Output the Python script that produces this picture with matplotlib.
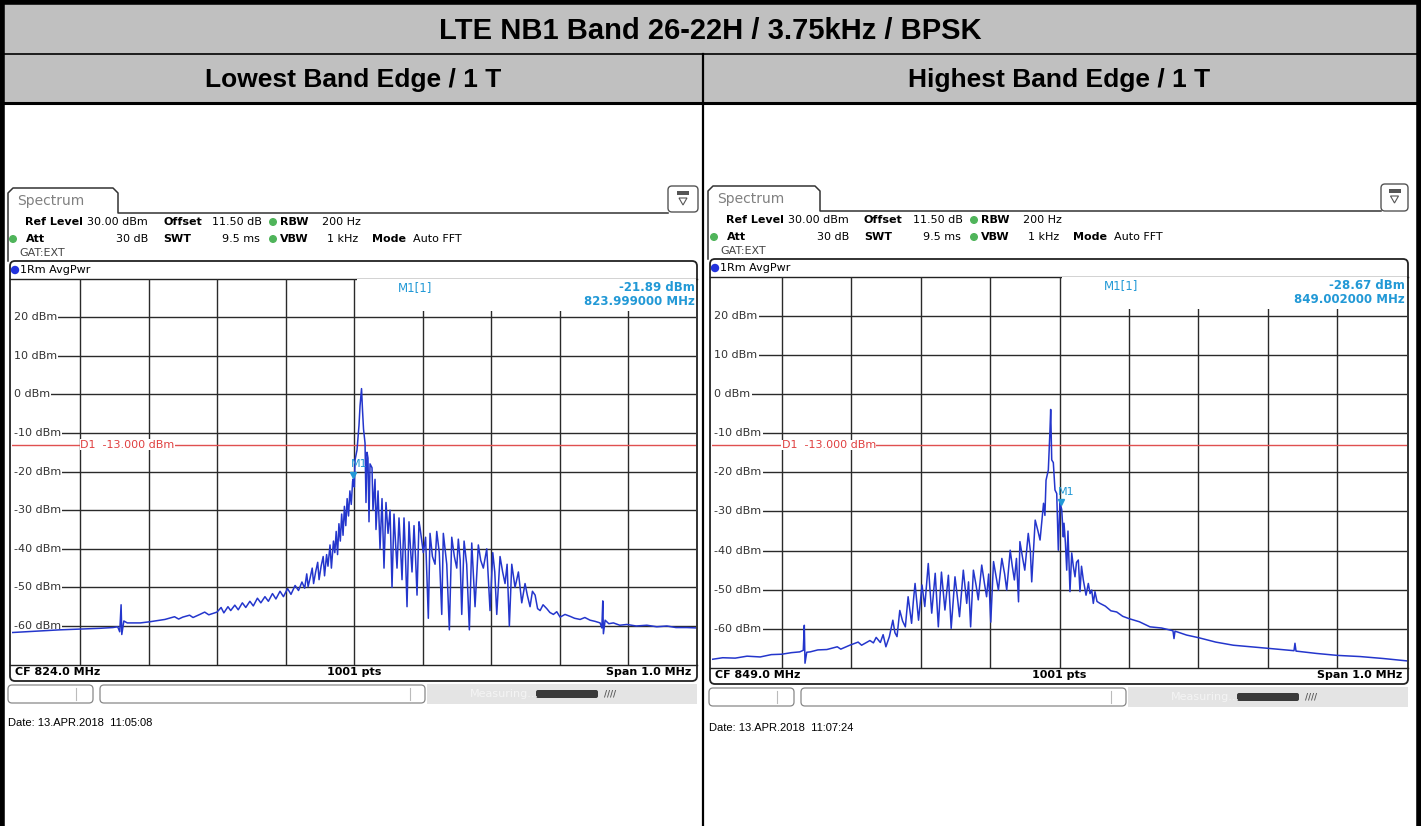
import matplotlib
matplotlib.use('Agg')
import matplotlib.pyplot as plt
import matplotlib.transforms as mtrans
from matplotlib.patches import Rectangle, FancyBboxPatch, Circle, Polygon

W, H = 1421, 826

title = 'LTE NB1 Band 26-22H / 3.75kHz / BPSK'
col_titles = ['Lowest Band Edge / 1 T', 'Highest Band Edge / 1 T']

center_mhz = [824.0, 849.0]
span_mhz = 1.0
ref_level = 30.0
limit_dbm = -13.0
marker_mhz = [823.999, 849.002]
marker_dbm = [-21.89, -28.67]
dates = ['Date: 13.APR.2018  11:05:08', 'Date: 13.APR.2018  11:07:24']
level_ticks = [20, 10, 0, -10, -20, -30, -40, -50, -60]

# traces: (offset from CF in kHz, level in dBm)
low_trace = [
    (-500, -61.7), (-459, -61.3), (-430, -61.0), (-400, -60.8), (-371, -60.6), (-352, -60.4),
    (-345, -60.2), (-342, -61.5), (-340, -54.5), (-339, -62.2), (-336, -58.7), (-331, -59.2),
    (-312, -59.2), (-298, -58.9), (-276, -58.3), (-262, -57.6), (-256, -58.2), (-250, -57.7),
    (-240, -57.2), (-235, -57.8), (-225, -57.0), (-218, -56.4), (-212, -57.1), (-200, -56.4),
    (-194, -55.2), (-190, -56.6), (-184, -55.0), (-180, -56.0), (-174, -54.6), (-169, -55.8),
    (-163, -54.0), (-158, -55.2), (-152, -53.6), (-147, -54.8), (-141, -52.8), (-136, -54.0),
    (-130, -52.4), (-125, -53.6), (-119, -51.6), (-114, -53.0), (-108, -51.0), (-103, -52.4),
    (-97, -50.3), (-92, -51.8), (-86, -49.5), (-81, -50.8), (-76, -48.6), (-72, -50.2),
    (-69, -46.5), (-67, -49.8), (-64, -47.5), (-61, -45.0), (-59, -49.0), (-56, -46.0),
    (-53, -43.5), (-51, -48.0), (-48, -44.5), (-45, -42.0), (-43, -47.0), (-40, -41.5),
    (-38, -44.5), (-35, -39.0), (-33, -45.0), (-30, -38.0), (-28, -41.0), (-26, -35.5),
    (-24, -41.5), (-22, -33.5), (-20, -38.0), (-18, -31.0), (-16, -36.5), (-14, -29.0),
    (-12, -34.0), (-10, -27.0), (-8, -31.5), (-6, -25.0), (-4, -28.5), (-2, -22.5),
    (-1, -21.9), (0.5, -24.0), (1.5, -17.0), (4.4, -14.4), (7.3, -8.0), (8.8, -3.0),
    (11, 1.5), (12.4, -4.0), (13.9, -9.0), (16.1, -12.6), (17.5, -28.0), (19, -15.0),
    (20.4, -16.5), (21.9, -33.0), (23.4, -18.0), (26.3, -19.0), (27.7, -30.0), (30.7, -22.0),
    (32.1, -35.0), (35.1, -25.0), (38, -40.0), (40.9, -27.0), (43.8, -45.0), (46.7, -28.0),
    (49.7, -36.0), (52.6, -30.0), (55.5, -50.0), (58.4, -31.0), (60.5, -38.0), (62.8, -45.0),
    (65.7, -32.0), (68, -40.0), (70.1, -48.0), (73, -32.0), (75, -41.0), (77.4, -55.0),
    (80.3, -33.0), (82.5, -40.0), (84.7, -46.0), (87.6, -34.0), (89.8, -42.0), (92, -52.0),
    (94.9, -33.0), (96.4, -34.6), (101.2, -41.0), (104.5, -37.0), (108.5, -58.0), (111, -36.0),
    (114.5, -42.0), (118.3, -44.0), (120.8, -35.5), (124.5, -41.0), (128.1, -57.0), (130.4, -36.0),
    (135.4, -44.0), (139.2, -61.0), (142.7, -37.0), (146.5, -42.0), (150, -45.0), (152.3, -37.5),
    (155, -43.0), (157.3, -57.0), (160.7, -38.0), (164.5, -44.0), (168.4, -61.0), (171.9, -38.5),
    (176.7, -55.0), (181.5, -39.0), (185, -43.0), (188.8, -45.0), (193.8, -40.0), (198.6, -56.0),
    (202.6, -41.0), (205.5, -46.0), (208.4, -57.0), (213.2, -42.0), (217, -46.0), (220.5, -49.0),
    (223.5, -44.0), (226.8, -60.0), (230.3, -44.0), (235.1, -50.0), (240, -46.0), (244.9, -54.0),
    (249.7, -49.0), (253, -52.0), (257, -55.0), (260.5, -51.0), (264.4, -52.0), (268, -55.5),
    (271.7, -56.0), (276, -54.5), (281.4, -55.5), (286, -56.5), (291.1, -57.0), (296, -56.3),
    (300.9, -57.7), (308, -57.0), (315.5, -57.5), (322, -58.0), (330.1, -58.3), (337, -57.8),
    (344.7, -58.5), (352, -58.8), (359.3, -59.2), (361.8, -60.5), (363.2, -53.5), (364.1, -62.0),
    (366.6, -58.5), (372, -59.4), (378.7, -59.2), (388, -59.8), (398.3, -59.6), (412, -60.0),
    (427.5, -59.8), (442, -60.2), (456.7, -60.0), (470, -60.4), (485.9, -60.4), (500, -60.5),
]
high_trace = [
    (-500, -67.8), (-485, -67.4), (-467, -67.5), (-450, -67.0), (-431, -67.2), (-415, -66.6),
    (-400, -66.5), (-386, -66.1), (-374, -65.9), (-369, -65.5), (-367.5, -59.1), (-366.5, -68.8),
    (-364, -66.0), (-359, -65.9), (-348, -65.4), (-335, -65.3), (-320, -64.6), (-315, -65.2),
    (-302, -64.2), (-290, -63.4), (-285, -64.2), (-273, -63.0), (-268, -63.6), (-264, -62.2),
    (-258, -63.5), (-254, -61.5), (-250, -64.6), (-245, -62.0), (-240, -57.8), (-237, -61.0),
    (-234, -62.0), (-230, -55.3), (-226, -58.0), (-222, -59.5), (-218, -51.8), (-213, -58.6),
    (-210.5, -53.0), (-208, -48.4), (-203, -57.8), (-198, -48.8), (-194, -54.3), (-189, -43.3),
    (-186.5, -50.0), (-184, -56.0), (-179, -45.8), (-174.5, -59.5), (-170, -45.5), (-167.5, -50.5),
    (-165, -55.2), (-160, -46.3), (-156, -59.9), (-150.5, -46.7), (-147, -52.0), (-144, -56.9),
    (-138.5, -45.0), (-133.6, -53.5), (-131, -48.0), (-128, -59.5), (-124, -45.0), (-120, -49.0),
    (-117, -52.6), (-112, -43.7), (-108, -48.5), (-105, -51.8), (-102, -46.0), (-99, -58.3),
    (-95, -42.8), (-91, -47.0), (-88, -50.1), (-83, -42.0), (-79, -46.0), (-76, -50.1),
    (-71, -39.9), (-68, -44.0), (-65, -47.5), (-62, -42.0), (-59, -53.1), (-57, -37.7),
    (-53, -42.0), (-50, -45.0), (-45, -35.6), (-42, -40.0), (-40, -48.0), (-35, -32.2),
    (-31, -35.0), (-28, -37.3), (-23, -27.9), (-21, -31.0), (-19.4, -22.0), (-16.1, -19.4),
    (-13.7, -9.2), (-12.7, -3.9), (-11.2, -16.8), (-8.9, -17.5), (-6.5, -24.5), (-4, -25.4),
    (-1.7, -39.9), (0.7, -27.0), (2, -28.67), (3.2, -29.5), (5.5, -36.5), (6.5, -33.0),
    (8.5, -38.0), (10.4, -45.0), (12.2, -35.0), (15.1, -50.5), (17.6, -40.6), (19.9, -44.0),
    (22.3, -46.7), (24.5, -43.0), (27.1, -42.4), (29.5, -50.5), (31.7, -44.0), (34.3, -47.5),
    (38.2, -51.4), (41.5, -48.4), (44, -51.0), (46.4, -50.1), (48.7, -53.5), (51.1, -50.5),
    (54, -53.0), (58.3, -53.5), (66, -54.2), (74, -55.4), (82.4, -55.7), (91, -56.8),
    (100.1, -57.4), (115, -58.2), (130.3, -59.5), (147, -59.8), (163.4, -60.5), (164.9, -62.5),
    (166.3, -60.6), (183, -61.6), (200.9, -62.3), (225, -63.4), (250.3, -64.2), (275, -64.6),
    (300.7, -65.0), (320, -65.3), (337.7, -65.6), (339.1, -63.7), (340.6, -65.7), (370, -66.3),
    (400, -66.8), (433, -67.1), (466.3, -67.6), (500, -68.2),
]
traces = [low_trace, high_trace]

# pixel geometry of the two analyzer screenshots
panels = [
    dict(dx=0, tab=(8, 118, 188, 213), icon=(668, 698, 186, 212), info=(222, 239, 253),
         frame=(10, 697, 261, 681), label_y=270, plot=(11.5, 696.5, 278.6, 664.6),
         foot_y=672, status=(685, 703), date_y=723, box_x=357),
    dict(dx=701, tab=(708, 820, 186, 211), icon=(1381, 1408, 184, 211), info=(220, 237, 251),
         frame=(710, 1408, 259, 684), label_y=268, plot=(712.3, 1406.7, 276.9, 667.9),
         foot_y=675, status=(688, 706), date_y=728, box_x=1062),
]

trace_col = '#2436cc'
mark_col = '#2299d6'
green = '#4fb45a'

fig = plt.figure(figsize=(W / 100, H / 100), dpi=100)
bg = fig.add_axes([0, 0, 1, 1])
bg.set_xlim(0, W)
bg.set_ylim(H, 0)
bg.axis('off')

# table header
bg.add_patch(Rectangle((0, 0), W, 103, facecolor='#c0c0c0', edgecolor='none'))
bg.plot([0, W], [54, 54], color='black', lw=1.2)
bg.plot([0, W], [103, 103], color='black', lw=2.2)
bg.plot([703, 703], [54, H], color='black', lw=1.6)
bg.plot([2, 2], [0, H], color='black', lw=4)
bg.plot([1418.5, 1418.5], [0, H], color='black', lw=4)
bg.plot([0, W], [2, 2], color='black', lw=4)
bg.text(710, 31, title, ha='center', va='center', fontsize=21, fontweight='bold',
        family='Liberation Sans')
for cx, t in zip([353, 1059], col_titles):
    bg.text(cx, 80, t, ha='center', va='center', fontsize=19, fontweight='bold',
            family='Liberation Sans')

fs = 8
for i, p in enumerate(panels):
    dx = p['dx']
    x0, x1, t0, t1 = p['tab']
    # tab outline + line to the icon
    ix0, ix1, iy0, iy1 = p['icon']
    bg.plot([x0, x0, x0 + 5, x1 - 5, x1, x1, ix0], [t1 + 48, t0 + 5, t0, t0, t0 + 5, t1, t1],
            color='#333333', lw=1.1)
    bg.text(x0 + 9, (t0 + t1) / 2 + 1, 'Spectrum', fontsize=10, color='#808080', va='center')
    bg.add_patch(FancyBboxPatch((ix0, iy0), ix1 - ix0, iy1 - iy0,
                                boxstyle='round,pad=0,rounding_size=4',
                                facecolor='white', edgecolor='#555555', lw=1))
    icx = (ix0 + ix1) / 2
    bg.add_patch(Rectangle((icx - 6, iy0 + 5), 12, 4, facecolor='#555555', edgecolor='none'))
    bg.add_patch(Polygon([(icx - 4, iy0 + 12), (icx + 4, iy0 + 12), (icx, iy0 + 19)],
                         closed=True, facecolor='none', edgecolor='#555555', lw=0.8))

    r1, r2, r3 = p['info']
    bg.text(dx + 25, r1, 'Ref Level', fontsize=fs, fontweight='bold', va='center')
    bg.text(dx + 87, r1, '30.00 dBm', fontsize=fs, va='center')
    bg.text(dx + 163, r1, 'Offset', fontsize=fs, fontweight='bold', va='center')
    bg.text(dx + 212, r1, '11.50 dB', fontsize=fs, va='center')
    bg.add_patch(Circle((dx + 273, r1), 3.3, color=green))
    bg.text(dx + 280, r1, 'RBW', fontsize=fs, fontweight='bold', va='center')
    bg.text(dx + 322, r1, '200 Hz', fontsize=fs, va='center')
    bg.add_patch(Circle((dx + 13, r2), 3.3, color=green))
    bg.text(dx + 26, r2, 'Att', fontsize=fs, fontweight='bold', va='center')
    bg.text(dx + 148, r2, '30 dB', fontsize=fs, va='center', ha='right')
    bg.text(dx + 163, r2, 'SWT', fontsize=fs, fontweight='bold', va='center')
    bg.text(dx + 260, r2, '9.5 ms', fontsize=fs, va='center', ha='right')
    bg.add_patch(Circle((dx + 273, r2), 3.3, color=green))
    bg.text(dx + 280, r2, 'VBW', fontsize=fs, fontweight='bold', va='center')
    bg.text(dx + 358, r2, '1 kHz', fontsize=fs, va='center', ha='right')
    bg.text(dx + 372, r2, 'Mode', fontsize=fs, fontweight='bold', va='center')
    bg.text(dx + 413, r2, 'Auto FFT', fontsize=fs, va='center')
    bg.text(dx + 19, r3, 'GAT:EXT', fontsize=fs, va='center', color='#444444')

    fx0, fx1, fy0, fy1 = p['frame']
    bg.add_patch(FancyBboxPatch((fx0, fy0), fx1 - fx0, fy1 - fy0,
                                boxstyle='round,pad=0,rounding_size=5',
                                facecolor='white', edgecolor='#222222', lw=1.3))
    bg.add_patch(Circle((fx0 + 5, p['label_y']), 3.5, color='#2233dd'))
    bg.text(fx0 + 10, p['label_y'], '1Rm AvgPwr', fontsize=fs, va='center')

    px0, px1, py0, py1 = p['plot']
    bg.plot([fx0, fx1], [py0, py0], color='#222222', lw=1)
    bg.plot([fx0, fx1], [py1, py1], color='#222222', lw=1)
    fy = p['foot_y']
    bg.text(fx0 + 5, fy, 'CF %.1f MHz' % center_mhz[i], fontsize=fs, fontweight='bold',
            va='center')
    bg.text((px0 + px1) / 2, fy, '1001 pts', fontsize=fs, fontweight='bold',
            va='center', ha='center')
    bg.text(fx1 - 6, fy, 'Span %.1f MHz' % span_mhz, fontsize=fs, fontweight='bold',
            va='center', ha='right')

    # status bar
    s0, s1 = p['status']
    bg.add_patch(FancyBboxPatch((dx + 8, s0), 85, s1 - s0, boxstyle='round,pad=0,rounding_size=4',
                                facecolor='white', edgecolor='#888888', lw=0.9))
    bg.plot([dx + 76, dx + 76], [s0 + 3, s1 - 3], color='#bbbbbb', lw=0.8)
    bg.add_patch(FancyBboxPatch((dx + 100, s0), 325, s1 - s0, boxstyle='round,pad=0,rounding_size=4',
                                facecolor='white', edgecolor='#888888', lw=0.9))
    bg.plot([dx + 410, dx + 410], [s0 + 3, s1 - 3], color='#bbbbbb', lw=0.8)
    bg.add_patch(Rectangle((dx + 427, s0 - 1), fx1 - dx - 427, s1 - s0 + 2,
                           facecolor='#e4e4e4', edgecolor='none'))
    bg.text(dx + 470, (s0 + s1) / 2, 'Measuring...', fontsize=fs, color='#f4f4f4', va='center')
    bg.add_patch(FancyBboxPatch((dx + 536, s0 + 5), 62, s1 - s0 - 10,
                                boxstyle='round,pad=0,rounding_size=2',
                                facecolor='#3a3a3a', edgecolor='none'))
    bg.text(dx + 604, (s0 + s1) / 2, '////', fontsize=6, color='#555555', va='center',
            fontweight='bold')
    bg.text(dx + 8, p['date_y'], dates[i], fontsize=8, va='center', family='Liberation Sans')

    # measurement diagram
    ax = fig.add_axes([px0 / W, 1 - py1 / H, (px1 - px0) / W, (py1 - py0) / H])
    ax.patch.set_visible(False)
    cf = center_mhz[i]
    ax.set_xlim(cf - span_mhz / 2, cf + span_mhz / 2)
    ax.set_ylim(ref_level - 100, ref_level)
    ax.set_xticks([])
    ax.set_yticks([])
    for s in ax.spines.values():
        s.set_visible(False)
    for k in range(1, 10):
        ax.axvline(cf - span_mhz / 2 + k * span_mhz / 10, color='#2a2a2a', lw=1, zorder=1)
    for lv in level_ticks:
        # the level label hides the start of the line
        ax.axhline(lv, xmin=0.02, color='#2a2a2a', lw=1, zorder=1)
    yx = mtrans.blended_transform_factory(ax.transAxes, ax.transData)
    for lv in level_ticks:
        ax.text(0.003, lv, '%d dBm' % lv, transform=yx, fontsize=fs, va='center',
                color='#333333', zorder=2,
                bbox=dict(facecolor='white', edgecolor='none', pad=1.0))
    ax.axhline(limit_dbm, color='#e05050', lw=1, zorder=3)
    ax.text(0.1, limit_dbm, 'D1  %.3f dBm' % limit_dbm, transform=yx, fontsize=fs,
            va='center', color='#e04040', zorder=3,
            bbox=dict(facecolor='white', edgecolor='none', pad=0.3))

    off, lvl = zip(*traces[i])
    ax.plot([cf + o / 1000 for o in off], lvl, color=trace_col, lw=1.1, zorder=4)

    # marker and readout
    ax.plot([marker_mhz[i]], [marker_dbm[i] + 1], marker='v', ms=5, color=mark_col, zorder=5)
    ax.text(marker_mhz[i] - 0.004, marker_dbm[i] + 2.5, 'M1', fontsize=fs, color=mark_col,
            zorder=5, va='bottom')
    bx = (p['box_x'] - px0) / (px1 - px0)
    by = 1 - 32 / (py1 - py0)
    ax.add_patch(Rectangle((bx, by), 1 - bx, 1 - by, transform=ax.transAxes,
                           facecolor='white', edgecolor='none', zorder=2))
    ax.text(bx + 0.06, 1 - 9 / (py1 - py0), 'M1[1]', transform=ax.transAxes, fontsize=8.5,
            color=mark_col, va='center', zorder=3)
    ax.text(0.997, 1 - 9 / (py1 - py0), '%.2f dBm' % marker_dbm[i], transform=ax.transAxes,
            fontsize=8.5, color=mark_col, va='center', ha='right', zorder=3, fontweight='bold')
    ax.text(0.997, 1 - 23 / (py1 - py0), '%.6f MHz' % marker_mhz[i], transform=ax.transAxes,
            fontsize=8.5, color=mark_col, va='center', ha='right', zorder=3, fontweight='bold')

fig.savefig('out.png', dpi=100)
